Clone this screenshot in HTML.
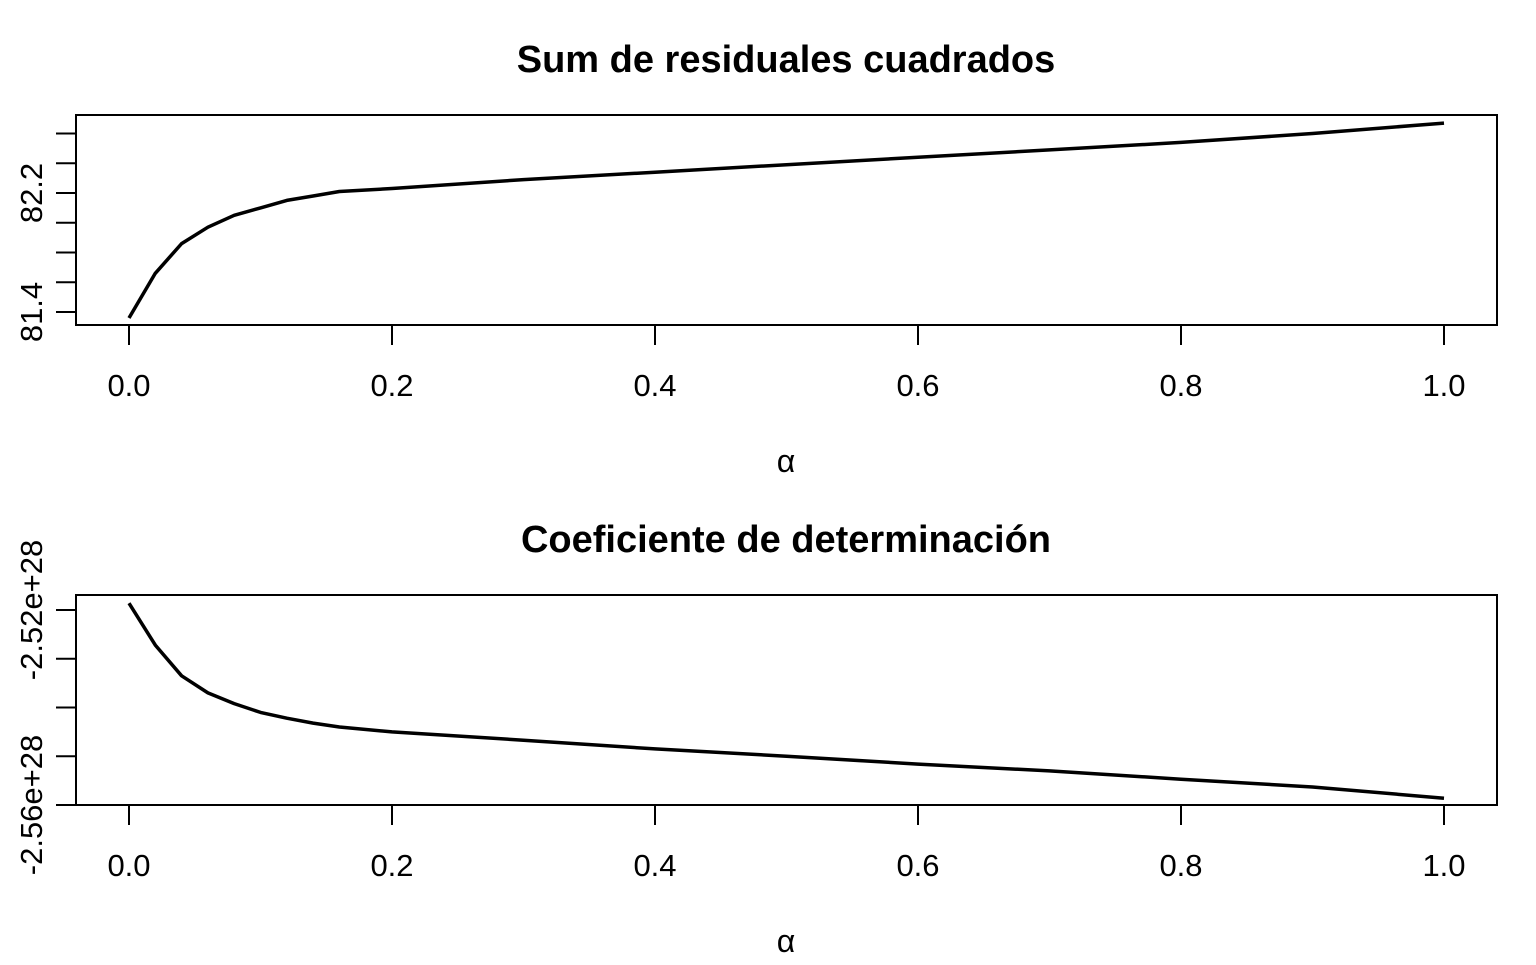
<!DOCTYPE html>
<html><head><meta charset="utf-8"><style>
body{margin:0;background:#fff;}
svg text{font-family:"Liberation Sans",Arial,sans-serif;fill:#000;}
</style></head><body>
<svg id="c" width="1536" height="960" xmlns="http://www.w3.org/2000/svg"></svg>
<script>
const alphas=[0,0.02,0.04,0.06,0.08,0.10,0.12,0.14,0.16,0.2,0.3,0.4,0.5,0.6,0.7,0.8,0.9,1.0];
const rssValues=[81.36,81.66,81.86,81.97,82.05,82.10,82.15,82.18,82.21,82.23,82.29,82.34,82.39,82.44,82.49,82.54,82.60,82.67];
const r2Values=[-2.5186,-2.5272,-2.5335,-2.537,-2.5392,-2.541,-2.5422,-2.5432,-2.5440,-2.5450,-2.5467,-2.5485,-2.55,-2.5516,-2.553,-2.5547,-2.5563,-2.5586];
const xTicks=[0,0.2,0.4,0.6,0.8,1.0];
const xTickLabels=["0.0","0.2","0.4","0.6","0.8","1.0"];
const topYTicks=[81.4,81.6,81.8,82.0,82.2,82.4,82.6];
const topYLabels={"81.4":"81.4","82.2":"82.2"};
const botYTicks=[-2.52,-2.53,-2.54,-2.55,-2.56];
const botYLabels={"-2.52":"-2.52e+28","-2.56":"-2.56e+28"};

const svg=document.getElementById('c');
const NS="http://www.w3.org/2000/svg";
function mk(tag,attrs,parent){const e=document.createElementNS(NS,tag);for(const k in attrs)e.setAttribute(k,attrs[k]);(parent||svg).appendChild(e);return e;}
const xs=v=>129+v*1315;

function panel(off,title,ys,yTicks,yLabels,xsVals,ysVals,nm){
  const g=mk('g',{});
  
  
  const t=mk('text',{x:786,y:off+72,'text-anchor':'middle','font-size':38,'font-weight':'bold'},g);
  t.textContent=title;
  
  
  const box=mk('rect',{x:76,y:off+115,width:1421,height:210,fill:'none',stroke:'#000','stroke-width':2},g);
  
  
  mk('line',{x1:xs(0),x2:xs(1),y1:off+325,y2:off+325,stroke:'#000','stroke-width':2},g);
  xTicks.forEach((v,i)=>{
    mk('line',{x1:xs(v),x2:xs(v),y1:off+325,y2:off+345,stroke:'#000','stroke-width':2},g);
    const l=mk('text',{x:xs(v),y:off+396,'text-anchor':'middle','font-size':31},g);
    l.textContent=xTickLabels[i];
    
    
  });
  const xl=mk('text',{x:786,y:off+472,'text-anchor':'middle','font-size':32,'font-family':'Liberation Serif,serif'},g);
  xl.textContent='α';
  
  
  const yMin=ys(yTicks[0]),yMax=ys(yTicks[yTicks.length-1]);
  mk('line',{x1:76,x2:76,y1:yMin,y2:yMax,stroke:'#000','stroke-width':2},g);
  yTicks.forEach(v=>{
    const y=ys(v);
    mk('line',{x1:56,x2:76,y1:y,y2:y,stroke:'#000','stroke-width':2},g);
    const key=String(v);
    if(yLabels[key]){
      const l=mk('text',{x:0,y:0,'text-anchor':'middle','font-size':31,transform:`translate(42,${y}) rotate(-90)`},g);
      l.textContent=yLabels[key];
      
      
    }
  });
  const d=xsVals.map((a,i)=>(i?'L':'M')+xs(a).toFixed(1)+','+ys(ysVals[i]).toFixed(1)).join(' ');
  const p=mk('path',{d:d,fill:'none',stroke:'#000','stroke-width':3.5,'stroke-linejoin':'round'},g);
  
  
}
panel(0,'Sum de residuales cuadrados',v=>312+(81.4-v)*148.75,topYTicks,topYLabels,alphas,rssValues,'rss');
panel(480,'Coeficiente de determinación',v=>610+(-2.52-v)*4875,botYTicks,botYLabels,alphas,r2Values,'r2');
</script>
</body></html>
